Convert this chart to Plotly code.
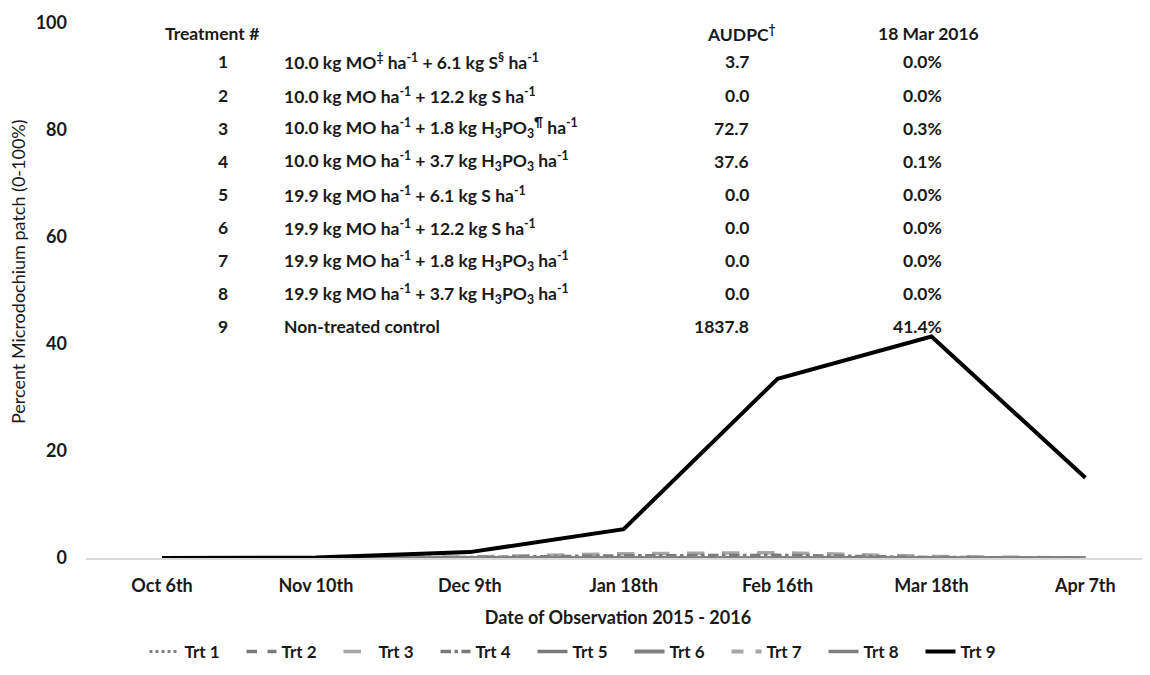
import plotly.graph_objects as go

dates = ["Oct 6th", "Nov 10th", "Dec 9th", "Jan 18th", "Feb 16th", "Mar 18th", "Apr 7th"]

trt1 = [0.0, 0.0, 0.0, 0.05, 0.05, 0.0, 0.0]
trt2 = [0.0, 0.0, 0.0, 0.0, 0.0, 0.0, 0.0]
trt3 = [0.0, 0.0, 0.2, 0.8, 1.0, 0.3, 0.0]
trt4 = [0.0, 0.0, 0.1, 0.4, 0.5, 0.1, 0.0]
trt5 = [0.0, 0.0, 0.0, 0.0, 0.0, 0.0, 0.0]
trt6 = [0.0, 0.0, 0.0, 0.0, 0.0, 0.0, 0.0]
trt7 = [0.0, 0.0, 0.0, 0.0, 0.0, 0.0, 0.0]
trt8 = [0.0, 0.0, 0.0, 0.0, 0.0, 0.0, 0.0]
trt9 = [0.0, 0.1, 1.1, 5.4, 33.5, 41.4, 15.0]

series_names = ["Trt 1", "Trt 2", "Trt 3", "Trt 4", "Trt 5", "Trt 6", "Trt 7", "Trt 8", "Trt 9"]
series_values = [trt1, trt2, trt3, trt4, trt5, trt6, trt7, trt8, trt9]

table_numbers = ["1", "2", "3", "4", "5", "6", "7", "8", "9"]
table_treatments = [
    "10.0 kg MO<sup>‡</sup> ha<sup>-1</sup> + 6.1 kg S<sup>§</sup> ha<sup>-1</sup>",
    "10.0 kg MO ha<sup>-1</sup> + 12.2 kg S ha<sup>-1</sup>",
    "10.0 kg MO ha<sup>-1</sup> + 1.8 kg H<sub>3</sub>PO<sub>3</sub><sup>¶</sup> ha<sup>-1</sup>",
    "10.0 kg MO ha<sup>-1</sup> + 3.7 kg H<sub>3</sub>PO<sub>3</sub> ha<sup>-1</sup>",
    "19.9 kg MO ha<sup>-1</sup> + 6.1 kg S ha<sup>-1</sup>",
    "19.9 kg MO ha<sup>-1</sup> + 12.2 kg S ha<sup>-1</sup>",
    "19.9 kg MO ha<sup>-1</sup> + 1.8 kg H<sub>3</sub>PO<sub>3</sub> ha<sup>-1</sup>",
    "19.9 kg MO ha<sup>-1</sup> + 3.7 kg H<sub>3</sub>PO<sub>3</sub> ha<sup>-1</sup>",
    "Non-treated control",
]
table_audpc = ["3.7", "0.0", "72.7", "37.6", "0.0", "0.0", "0.0", "0.0", "1837.8"]
table_mar18 = ["0.0%", "0.0%", "0.3%", "0.1%", "0.0%", "0.0%", "0.0%", "0.0%", "41.4%"]

FONT = "Lato, 'Open Sans', sans-serif"
TXT = "#1a1a1a"
OFF = 8  # page body margin of the browser
W, H = 1150 - OFF, 675 - OFF
ML, MR, MT, MB = 86 - OFF, 0, 23 - OFF, 117

styles = [
    dict(color="#808080", width=3, dash="dot"),
    dict(color="#7a7a7a", width=3.5, dash="dash"),
    dict(color="#a6a6a6", width=3.5, dash="longdash"),
    dict(color="#7a7a7a", width=3.5, dash="dashdot"),
    dict(color="#7a7a7a", width=3.5, dash="solid"),
    dict(color="#808080", width=4, dash="solid"),
    dict(color="#a6a6a6", width=4, dash="dash"),
    dict(color="#7f7f7f", width=3.5, dash="solid"),
    dict(color="#000000", width=4, dash="solid"),
]

fig = go.Figure()
for i, (name, vals) in enumerate(zip(series_names, series_values)):
    fig.add_trace(go.Scatter(x=dates, y=vals, mode="lines", name=name,
                             line=styles[i], legendgroup=name))
    if name in ("Trt 6", "Trt 7"):
        fig.add_trace(go.Scatter(x=dates, y=vals, mode="lines", name=name,
                                 line=dict(color="white", width=1.3, dash=styles[i]["dash"]),
                                 legendgroup=name, showlegend=False, hoverinfo="skip"))


def px_x(px):
    return (px - OFF - ML) / (W - ML - MR)


def px_y(py):
    return (H - MB - (py - OFF)) / (H - MT - MB)


ann = []
tf = dict(family=FONT, size=17.5, color=TXT, weight="bold")
ann.append(dict(text="Treatment #", x=px_x(163), y=px_y(33), xanchor="left", yanchor="middle"))
ann.append(dict(text="AUDPC<sup>†</sup>", x=px_x(741), y=px_y(33), xanchor="center", yanchor="middle"))
ann.append(dict(text="18 Mar 2016", x=px_x(928), y=px_y(33), xanchor="center", yanchor="middle"))
for i in range(9):
    yy = px_y(62 + i * 33.1)
    ann.append(dict(text=table_numbers[i], x=px_x(223), y=yy, xanchor="center", yanchor="middle"))
    ann.append(dict(text=table_treatments[i], x=px_x(282), y=yy, xanchor="left", yanchor="middle"))
    ann.append(dict(text=table_audpc[i], x=px_x(751), y=yy, xanchor="right", yanchor="middle"))
    ann.append(dict(text=table_mar18[i], x=px_x(944), y=yy, xanchor="right", yanchor="middle"))
for a in ann:
    a.update(xref="paper", yref="paper", showarrow=False, font=tf)

# y-axis title (sits a bit above the plot centre in the reference)
ann.append(dict(text="Percent Microdochium patch (0-100%)", textangle=-90,
                x=px_x(18), y=px_y(272), xref="paper", yref="paper",
                xanchor="center", yanchor="middle", showarrow=False,
                font=dict(family=FONT, size=18, color=TXT)))

fig.update_layout(
    width=W, height=H,
    margin=dict(l=ML, r=MR, t=MT, b=MB),
    paper_bgcolor="white", plot_bgcolor="white",
    font=dict(family=FONT, size=17, color=TXT),
    annotations=ann,
    showlegend=True,
    legend=dict(orientation="h", x=px_x(581), xanchor="center", y=px_y(652), yanchor="middle",
                font=dict(family=FONT, size=17, color=TXT, weight="bold"),
                entrywidth=52, entrywidthmode="pixels", traceorder="normal",
                itemsizing="trace"),
    xaxis=dict(type="category", range=[-0.494, 6.42], showgrid=False, zeroline=False,
               showline=True, linecolor="#d9d9d9", linewidth=1.5, ticks="",
               tickfont=dict(family=FONT, size=18, color=TXT, weight="bold"),
               ticklabelstandoff=11,
               title=dict(text="Date of Observation 2015 - 2016", standoff=16,
                          font=dict(family=FONT, size=18, color=TXT, weight="bold"))),
    yaxis=dict(range=[0, 100], tickvals=[0, 20, 40, 60, 80, 100], showgrid=False,
               zeroline=False, showline=False, ticks="",
               tickfont=dict(family=FONT, size=18, color=TXT, weight="bold"),
               ticklabelstandoff=18),
)

fig.write_html("out.html")
